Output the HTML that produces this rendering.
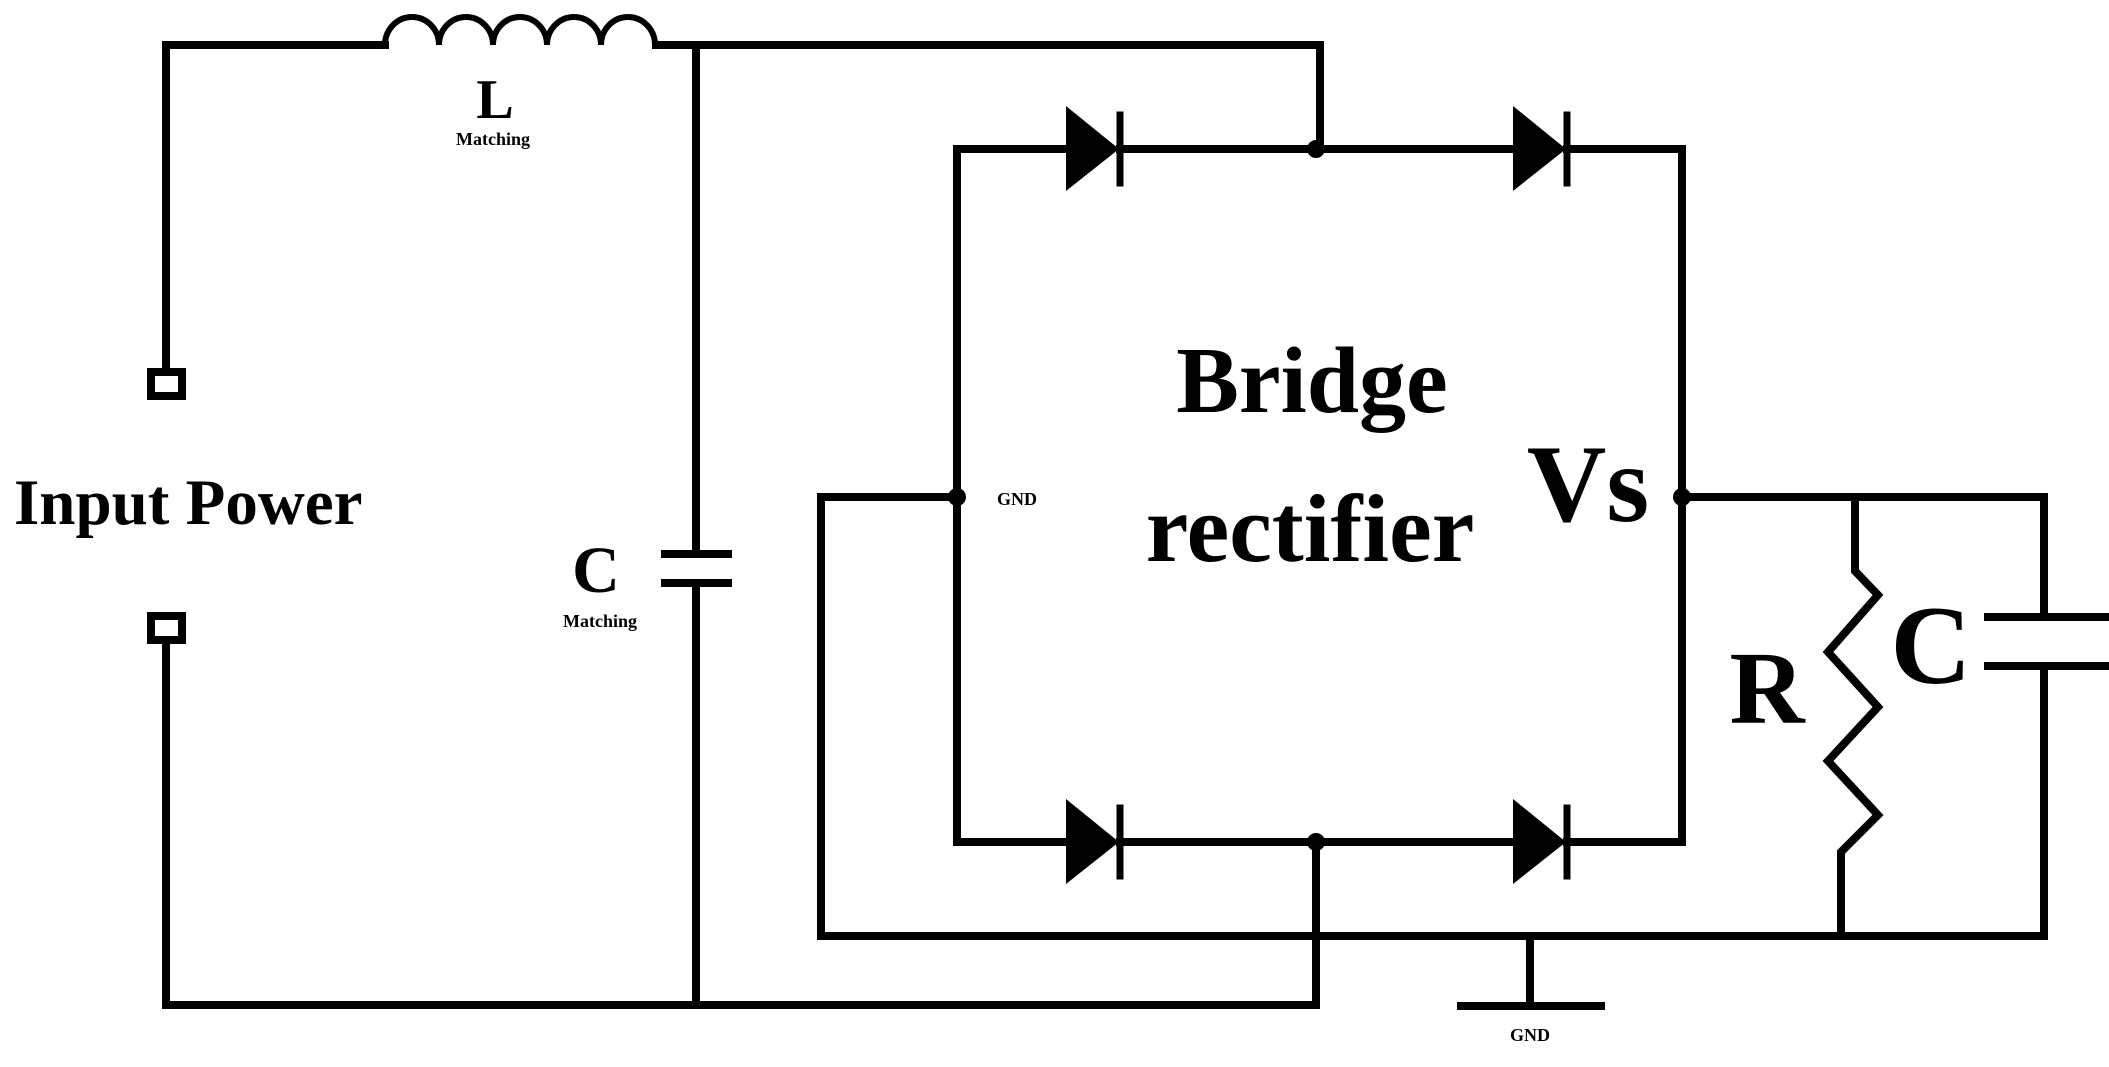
<!DOCTYPE html>
<html><head><style>
html,body{margin:0;padding:0;background:#fff;}
svg{display:block;}
text{font-family:"Liberation Serif",serif;font-weight:bold;fill:#000;}
</style></head><body>
<svg width="2109" height="1067" viewBox="0 0 2109 1067" xmlns="http://www.w3.org/2000/svg">
<g stroke="#000" stroke-width="8" fill="none" stroke-linecap="square">
<polyline points="166,370 166,45 385,45"/>
<path d="M385,45 a27,28 0 0 1 54,0 a27,28 0 0 1 54,0 a27,28 0 0 1 54,0 a27,28 0 0 1 54,0 a27,28 0 0 1 54,0" stroke-width="6"/>
<polyline points="656,45 1320,45 1320,149"/>
<line x1="696" y1="45" x2="696" y2="554"/>
<line x1="696" y1="583" x2="696" y2="1005"/>
<line x1="665" y1="554" x2="728" y2="554"/>
<line x1="665" y1="583" x2="728" y2="583"/>
<polyline points="166,644 166,1005 1316,1005 1316,842"/>
<polyline points="1067,149 957,149 957,842 1067,842"/>
<line x1="1120" y1="149" x2="1513" y2="149"/>
<line x1="1120" y1="842" x2="1513" y2="842"/>
<polyline points="1567,149 1682,149 1682,842 1567,842"/>
<polyline points="957,497 821,497 821,936 2044,936 2044,666"/>
<polyline points="1682,497 2044,497 2044,617"/>
<line x1="1988" y1="617" x2="2109" y2="617"/>
<line x1="1988" y1="666" x2="2109" y2="666"/>
<polyline points="1855,497 1855,571 1878,595 1828,652 1878,707 1828,761 1878,815 1841,852 1841,936" stroke-linecap="butt" stroke-linejoin="miter"/>
<line x1="1530" y1="936" x2="1530" y2="1006"/>
<line x1="1461" y1="1006" x2="1601" y2="1006"/>
<line x1="1120" y1="115" x2="1120" y2="183" stroke-width="7"/>
<line x1="1567" y1="115" x2="1567" y2="183" stroke-width="7"/>
<line x1="1120" y1="808" x2="1120" y2="876" stroke-width="7"/>
<line x1="1567" y1="808" x2="1567" y2="876" stroke-width="7"/>
</g>
<g fill="#000">
<polygon points="1066,106 1119,149 1066,191"/>
<polygon points="1513,106 1566,149 1513,191"/>
<polygon points="1066,799 1119,842 1066,884"/>
<polygon points="1513,799 1566,842 1513,884"/>
<circle cx="1316" cy="149" r="9"/>
<circle cx="1316" cy="842" r="9"/>
<circle cx="957" cy="497" r="9"/>
<circle cx="1682" cy="497" r="9"/>
</g>
<rect x="151" y="372" width="31" height="24" fill="#fff" stroke="#000" stroke-width="8"/>
<rect x="151" y="616" width="31" height="24" fill="#fff" stroke="#000" stroke-width="8"/>
<text x="14" y="524" font-size="65">Input Power</text>
<text x="495" y="118" font-size="56" text-anchor="middle">L</text>
<text x="493" y="145" font-size="18" text-anchor="middle">Matching</text>
<text x="596" y="592" font-size="66" text-anchor="middle">C</text>
<text x="600" y="627" font-size="18" text-anchor="middle">Matching</text>
<text x="997" y="505" font-size="18">GND</text>
<text x="1312" y="412" font-size="94" text-anchor="middle">Bridge</text>
<text x="1310" y="561" font-size="96" text-anchor="middle">rectifier</text>
<text x="1588" y="521" font-size="110" text-anchor="middle">Vs</text>
<text x="1767" y="723" font-size="104" text-anchor="middle">R</text>
<text x="1931" y="683" font-size="112" text-anchor="middle">C</text>
<text x="1530" y="1041" font-size="18" text-anchor="middle">GND</text>
</svg>
</body></html>
